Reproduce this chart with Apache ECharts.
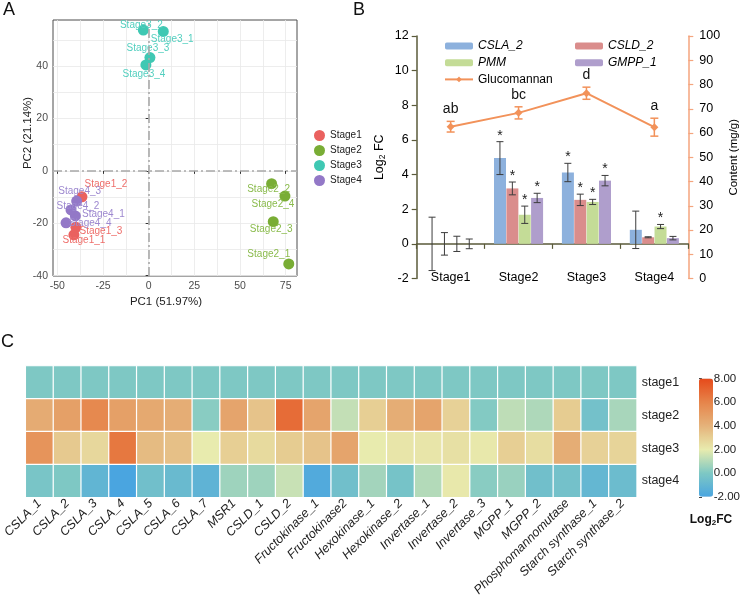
<!DOCTYPE html>
<html><head><meta charset="utf-8">
<script src="https://cdn.jsdelivr.net/npm/echarts@6/dist/echarts.min.js"></script>
<style>html,body{margin:0;padding:0;background:#fff}#c{width:743px;height:599px}</style>
</head><body><div id="c"></div>
<script>
// ---------- Panel A: PCA ----------
const pcaStage1 = [['Stage1_1',-40.9,-24.4],['Stage1_2',-36.5,-9.9],['Stage1_3',-39.8,-21.5]];
const pcaStage2 = [['Stage2_1',76.7,-35.5],['Stage2_2',67.3,-4.9],['Stage2_3',68.2,-19.4],['Stage2_4',74.6,-9.6]];
const pcaStage3 = [['Stage3_1',8.0,53.2],['Stage3_2',-2.9,53.7],['Stage3_3',0.7,43.2],['Stage3_4',-1.5,40.4]];
const pcaStage4 = [['Stage4_1',-40.1,-17.2],['Stage4_2',-42.5,-14.9],['Stage4_3',-39.4,-11.5],['Stage4_4',-45.2,-19.8]];
const pcaGroups = ['Stage1','Stage2','Stage3','Stage4'];
const pcaTicksX = [-50,-25,0,25,50,75];
const pcaTicksY = [-40,-20,0,20,40];
const pcaGridX = [-50,-37.5,-25,-12.5,0,12.5,25,37.5,50,62.5,75];
const pcaGridY = [-40,-30,-20,-10,0,10,20,30,40,50];

// ---------- Panel B: bars + line ----------
const stagesB = ['Stage1','Stage2','Stage3','Stage4'];
const genesB = ['CSLA_2','CSLD_2','PMM','GMPP_1'];
const csla2 = [0, 4.95, 4.12, 0.81];
const csla2Err = [1.54, 0.95, 0.53, 1.08];
const csla2Sig = [0, 1, 1, 0];
const csld2 = [0, 3.2, 2.54, 0.38];
const csld2Err = [0.65, 0.37, 0.33, 0.03];
const csld2Sig = [0, 1, 1, 0];
const pmm = [0, 1.68, 2.42, 1.0];
const pmmErr = [0.44, 0.5, 0.15, 0.12];
const pmmSig = [0, 1, 1, 1];
const gmpp1 = [0, 2.65, 3.65, 0.33];
const gmpp1Err = [0.28, 0.27, 0.3, 0.1];
const gmpp1Sig = [0, 1, 1, 0];
const glucomannan = [62.6, 68.3, 76.4, 62.4];
const glucomannanErr = [2.2, 2.5, 2.5, 3.7];
const glucomannanLetters = ['ab', 'bc', 'd', 'a'];

// ---------- Panel C: heatmap ----------
const genesC = ['CSLA_1','CSLA_2','CSLA_3','CSLA_4','CSLA_5','CSLA_6','CSLA_7','MSR1','CSLD_1','CSLD_2','Fructokinase_1','Fructokinase2','Hexokinase_1','Hexokinase_2','Invertase_1','Invertase_2','Invertase_3','MGPP_1','MGPP_2','Phosphomannomutase','Starch synthase_1','Starch synthase_2'];
const stagesC = ['stage1','stage2','stage3','stage4'];
const heatStage1 = [0,0,0,0,0,0,0,0,0,0,0,0,0,0,0,0,0,0,0,0,0,0];
const heatStage2 = [4.3,4.8,5.8,4.8,4.4,4.2,0.2,4.6,3.4,6.8,4.6,1.3,3.0,4.2,4.6,2.9,0.1,1.2,0.9,3.1,-0.4,0.8];
const heatStage3 = [5.3,3.2,2.7,6.4,3.7,3.5,2.0,3.0,2.6,3.1,3.4,4.6,2.0,2.2,2.2,2.4,2.1,3.0,2.5,4.2,2.9,2.8];
const heatStage4 = [-0.2,0,-1.1,-2,-0.5,-0.8,-1.2,0.6,0.6,1.4,-1.7,-0.5,0.7,-0.3,1.0,2.1,0.2,0.5,-0.5,-0.4,-1.0,-0.7];
const colorbarTicks = [-2, 0, 2, 4, 6, 8];

// ---------- styling / layout ----------
const FONT = "'Liberation Sans', Arial, sans-serif";
const stageColors = ['#EA615F','#79AD35','#3FC8B3','#9378C7'];
const stageLabelColors = ['#EE6E6A','#8ABB4C','#52CFBF','#9D88CF'];
const labelOffsets = {
  Stage3_2:[-2,-5], Stage3_1:[9,8], Stage3_3:[-2,-9], Stage3_4:[-2,9],
  Stage1_2:[24,-13], Stage4_3:[3,-10], Stage4_2:[7,-4], Stage4_1:[28,-2],
  Stage4_4:[24,0], Stage1_3:[25,4], Stage1_1:[10,5],
  Stage2_2:[-3,6], Stage2_4:[-12,8], Stage2_3:[-2,8], Stage2_1:[-20,-10]
};
const barColors = ['#8DB1DD','#DA8D8C','#C4DC97','#AF9ECC'];
const lineColor = '#F2925A';
const axisOlive = '#5A5A3A';
const BAR_W = 12, BAR_STEP = 12.4;

const chart = echarts.init(document.getElementById('c'), null, {renderer: 'canvas'});

const pcaSets = [pcaStage1, pcaStage2, pcaStage3, pcaStage4];
const pcaSeries = pcaSets.map((arr, i) => ({
  type: 'scatter', name: pcaGroups[i], xAxisIndex: 0, yAxisIndex: 0,
  symbolSize: 11, z: 5, silent: true,
  itemStyle: {color: stageColors[i], opacity: 1},
  label: {show: true, position: 'inside', formatter: p => p.name,
          color: stageLabelColors[i], fontSize: 10, fontFamily: FONT},
  data: arr.map(d => ({name: d[0], value: [d[1], d[2]], label: {offset: labelOffsets[d[0]]}})),
  markLine: i === 3 ? {
    silent: true, symbol: 'none', z: 10, animation: false,
    label: {show: false},
    lineStyle: {color: '#A8A8A8', width: 1.6, type: [9, 3, 2, 3]},
    data: [{xAxis: 0}, {yAxis: 0}]
  } : undefined
}));

const barVals = [csla2, csld2, pmm, gmpp1];
const barErrs = [csla2Err, csld2Err, pmmErr, gmpp1Err];
const barSigs = [csla2Sig, csld2Sig, pmmSig, gmpp1Sig];
const barSeries = barVals.map((vals, i) => ({
  type: 'bar', name: genesB[i], xAxisIndex: 1, yAxisIndex: 1,
  barWidth: BAR_W, barGap: '3%', silent: true,
  itemStyle: {color: barColors[i]}, data: vals
}));
const errSeries = barVals.map((vals, i) => ({
  type: 'custom', xAxisIndex: 1, yAxisIndex: 1, z: 4, silent: true,
  data: vals.map((v, k) => [k, v, barErrs[i][k], barSigs[i][k]]),
  renderItem(params, api) {
    const k = api.value(0), v = api.value(1), e = api.value(2), s = api.value(3);
    const off = (i - 1.5) * BAR_STEP;
    const p1 = api.coord([k, v + e]), p2 = api.coord([k, v - e]);
    const x = p1[0] + off, cap = 3.5;
    const st = {stroke: '#3C3C3C', lineWidth: 1};
    const ch = [
      {type: 'line', shape: {x1: x, y1: p1[1], x2: x, y2: p2[1]}, style: st},
      {type: 'line', shape: {x1: x - cap, y1: p1[1], x2: x + cap, y2: p1[1]}, style: st},
      {type: 'line', shape: {x1: x - cap, y1: p2[1], x2: x + cap, y2: p2[1]}, style: st}
    ];
    if (s) ch.push({type: 'text', style: {text: '*', x: x, y: p1[1] + 1, align: 'center', verticalAlign: 'bottom', fontSize: 14, fill: '#222', fontFamily: FONT}});
    return {type: 'group', children: ch};
  }
}));
const glucoSeries = {
  type: 'line', name: 'Glucomannan', xAxisIndex: 1, yAxisIndex: 2, z: 6, silent: true,
  symbol: 'diamond', symbolSize: 8, data: glucomannan,
  itemStyle: {color: lineColor}, lineStyle: {color: lineColor, width: 2}
};
const glucoErr = {
  type: 'custom', xAxisIndex: 1, yAxisIndex: 2, z: 6, silent: true,
  data: glucomannan.map((v, k) => [k, v, glucomannanErr[k]]),
  renderItem(params, api) {
    const k = api.value(0), v = api.value(1), e = api.value(2);
    const p1 = api.coord([k, v + e]), p2 = api.coord([k, v - e]);
    const x = p1[0], cap = 4;
    const st = {stroke: lineColor, lineWidth: 1.5};
    return {type: 'group', children: [
      {type: 'line', shape: {x1: x, y1: p1[1], x2: x, y2: p2[1]}, style: st},
      {type: 'line', shape: {x1: x - cap, y1: p1[1], x2: x + cap, y2: p1[1]}, style: st},
      {type: 'line', shape: {x1: x - cap, y1: p2[1], x2: x + cap, y2: p2[1]}, style: st},
      {type: 'text', style: {text: glucomannanLetters[k], x: x, y: p1[1] - 5, align: 'center', verticalAlign: 'bottom', fontSize: 14, fill: '#111', fontFamily: FONT}}
    ]};
  }
};

const heatRows = [heatStage1, heatStage2, heatStage3, heatStage4];
const heatData = [];
heatRows.forEach((row, r) => row.forEach((v, c) => heatData.push([c, r, v])));
const heatSeries = {
  type: 'heatmap', id: 'heat', xAxisIndex: 3, yAxisIndex: 3, silent: true, data: heatData,
  itemStyle: {borderColor: '#fff', borderWidth: 1.2}
};

const allSeries = [...pcaSeries, ...barSeries, ...errSeries, glucoSeries, glucoErr, heatSeries];
const heatIndex = allSeries.indexOf(heatSeries);

const hiddenAxisCommon = {axisLine: {show: false}, axisTick: {show: false}, axisLabel: {show: false}};

const option = {
  animation: false,
  backgroundColor: '#fff',
  textStyle: {fontFamily: FONT},
  grid: [
    {left: 53, top: 20, width: 244, height: 256, show: true, borderColor: '#4D4D4D', borderWidth: 1, backgroundColor: '#fff'},
    {left: 416.7, top: 36, width: 271.6, height: 242.5},
    {left: 22.7, top: 366, width: 614, height: 132.5},
    {left: 699, top: 378.4, width: 14, height: 118.4}
  ],
  xAxis: [
    {type: 'value', gridIndex: 0, min: -52.35, max: 81.2,
     axisLine: {show: false},
     axisTick: {show: true, length: 3, customValues: pcaTicksX, lineStyle: {color: '#333'}},
     axisLabel: {customValues: pcaTicksX, color: '#4D4D4D', fontSize: 10.5, margin: 5, fontFamily: FONT},
     splitLine: {show: false}},
    {type: 'category', gridIndex: 1, data: stagesB, position: 'bottom',
     axisLine: {show: false, onZero: false}, axisTick: {show: false},
     axisLabel: {color: '#000', fontSize: 12.5, margin: -7, fontFamily: FONT}},
    {type: 'category', gridIndex: 1, data: stagesB, position: 'bottom',
     axisLine: {show: true, onZero: true, onZeroAxisIndex: 1, lineStyle: {color: axisOlive, width: 1.5}},
     axisTick: {show: true, length: 5, lineStyle: {color: axisOlive, width: 1.2}},
     axisLabel: {show: false}},
    {type: 'category', gridIndex: 2, data: genesC, position: 'bottom',
     axisLine: {show: false}, axisTick: {show: false},
     axisLabel: {rotate: 45, fontStyle: 'italic', fontSize: 12.5, color: '#222', margin: 4, interval: 0, fontFamily: FONT}},
    {type: 'value', gridIndex: 3, show: false, min: 0, max: 1},
    {type: 'value', gridIndex: 0, min: -52.35, max: 81.2, ...hiddenAxisCommon,
     axisTick: {show: false, customValues: pcaGridX},
     splitLine: {show: true, lineStyle: {color: '#E8E8E8', width: 0.8}}}
  ],
  yAxis: [
    {type: 'value', gridIndex: 0, min: -40.1, max: 57.55,
     axisLine: {show: false},
     axisTick: {show: true, length: 3, customValues: pcaTicksY, lineStyle: {color: '#333'}},
     axisLabel: {customValues: pcaTicksY, color: '#4D4D4D', fontSize: 10.5, margin: 5, fontFamily: FONT},
     splitLine: {show: false}},
    {type: 'value', gridIndex: 1, min: -2, max: 12, interval: 2, position: 'left',
     name: '{a|Log}{b|2}{a| FC}', nameLocation: 'middle', nameGap: 30, nameRotate: 90,
     nameTextStyle: {rich: {a: {fontSize: 12.5, color: '#000', fontFamily: FONT}, b: {fontSize: 8.5, color: '#000', verticalAlign: 'bottom', padding: [6, 0, 0, 0], fontFamily: FONT}}},
     axisLine: {show: true, lineStyle: {color: axisOlive, width: 1.5}},
     axisTick: {show: true, length: 5, lineStyle: {color: axisOlive, width: 1.2}},
     axisLabel: {color: '#000', fontSize: 12.5, margin: 8, fontFamily: FONT},
     splitLine: {show: false}},
    {type: 'value', gridIndex: 1, min: 0, max: 100, interval: 10, position: 'right',
     name: 'Content (mg/g)', nameLocation: 'middle', nameGap: 40, nameRotate: 90,
     nameTextStyle: {fontSize: 11.5, color: '#000', fontFamily: FONT},
     axisLine: {show: true, lineStyle: {color: '#F4A57E', width: 1.5}},
     axisTick: {show: true, length: 5, lineStyle: {color: '#F4A57E', width: 1.2}},
     axisLabel: {color: '#000', fontSize: 12.5, margin: 11, fontFamily: FONT},
     splitLine: {show: false}},
    {type: 'category', gridIndex: 2, data: stagesC, inverse: true, position: 'right',
     axisLine: {show: false}, axisTick: {show: false},
     axisLabel: {fontSize: 12.5, color: '#222', margin: 5, fontFamily: FONT}},
    {type: 'value', gridIndex: 3, min: -2, max: 8, interval: 2, position: 'right',
     axisLine: {show: false},
     axisTick: {show: true, length: 3, lineStyle: {color: '#444'}, customValues: colorbarTicks},
     axisLabel: {color: '#222', fontSize: 11.5, margin: 2, formatter: v => v.toFixed(2), customValues: colorbarTicks, fontFamily: FONT},
     splitLine: {show: false}},
    {type: 'value', gridIndex: 0, min: -40.1, max: 57.55, ...hiddenAxisCommon,
     axisTick: {show: false, customValues: pcaGridY},
     splitLine: {show: true, lineStyle: {color: '#E8E8E8', width: 0.8}}}
  ],
  visualMap: [{
    type: 'continuous', seriesIndex: heatIndex, min: -2, max: 8, calculable: false,
    left: 699, top: 378.4, itemWidth: 14, itemHeight: 118.4, padding: 0,
    text: null, showLabel: false, hoverLink: false,
    inRange: {color: ['#4AA5E0', '#7EC8C4', '#E8EBAE', '#E5B27A', '#E6844A', '#E6491A']}
  }],
  legend: [
    {left: 439, top: 35, orient: 'vertical', itemWidth: 28, itemHeight: 7, itemGap: 4.7,
     textStyle: {fontSize: 12, color: '#000', fontFamily: FONT}, selectedMode: false,
     data: [{name: 'CSLA_2', textStyle: {fontStyle: 'italic'}}, {name: 'PMM', textStyle: {fontStyle: 'italic'}}, {name: 'Glucomannan'}]},
    {left: 570, top: 35, orient: 'vertical', itemWidth: 28, itemHeight: 7, itemGap: 4.7,
     textStyle: {fontSize: 12, color: '#000', fontStyle: 'italic', fontFamily: FONT}, selectedMode: false,
     data: ['CSLD_2', 'GMPP_1']},
    {left: 309, top: 125, orient: 'vertical', icon: 'circle', itemWidth: 11, itemHeight: 11, itemGap: 4,
     textStyle: {fontSize: 10, color: '#222', fontFamily: FONT}, selectedMode: false,
     data: pcaGroups}
  ],
  graphic: [
    {type: 'text', left: 3, top: 1, style: {text: 'A', fontSize: 18, fill: '#111', fontFamily: FONT}},
    {type: 'text', left: 353, top: 1, style: {text: 'B', fontSize: 18, fill: '#111', fontFamily: FONT}},
    {type: 'text', left: 1, top: 333, style: {text: 'C', fontSize: 18, fill: '#111', fontFamily: FONT}},
    {type: 'text', x: 166, y: 302, style: {text: 'PC1 (51.97%)', fontSize: 11.5, fill: '#222', align: 'center', verticalAlign: 'middle', fontFamily: FONT}},
    {type: 'text', x: 28, y: 133, rotation: Math.PI / 2, style: {text: 'PC2 (21.14%)', fontSize: 11.5, fill: '#222', align: 'center', verticalAlign: 'middle', fontFamily: FONT}},
    {type: 'text', x: 711, y: 520, style: {text: '{a|Log}{b|2}{a|FC}', align: 'center', verticalAlign: 'middle',
      rich: {a: {fontSize: 12, fontWeight: 'bold', fill: '#111', fontFamily: FONT}, b: {fontSize: 8, fontWeight: 'bold', fill: '#111', verticalAlign: 'bottom', padding: [6, 0, 0, 0], fontFamily: FONT}}}}
  ],
  series: allSeries
};
chart.setOption(option);
</script></body></html>
